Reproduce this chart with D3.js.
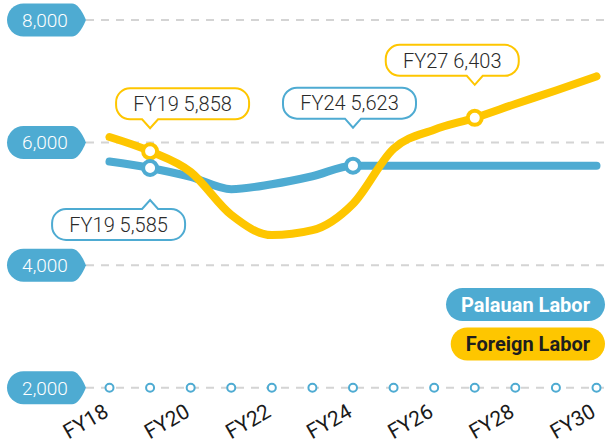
<!DOCTYPE html>
<html>
<head>
<meta charset="utf-8">
<script src="https://cdn.jsdelivr.net/npm/d3@7"></script>
<style>
  html, body { margin: 0; padding: 0; background: #fff; }
  svg { display: block; font-family: Roboto, "Open Sans", sans-serif; }
</style>
</head>
<body>
<svg id="chart"></svg>
<script>
// Palauan vs foreign labor, FY18–FY30

const years    = [2018, 2019, 2020, 2021, 2022, 2023, 2024, 2025, 2026, 2027, 2028, 2029, 2030];
const palauan  = [5690, 5585, 5440, 5240, 5320, 5450, 5623, 5623, 5623, 5623, 5623, 5623, 5623];
const foreign  = [6090, 5858, 5520, 4820, 4490, 4570, 5000, 5900, 6210, 6403, 6630, 6850, 7080];
const yTicks   = [2000, 4000, 6000, 8000];
const xTicks   = [2018, 2020, 2022, 2024, 2026, 2028, 2030];
const seriesNames = ["Palauan Labor", "Foreign Labor"];

// callouts: series, year, which side the box sits on
const callouts = [
  { series: 1, year: 2019, side: "above" },
  { series: 0, year: 2019, side: "below" },
  { series: 0, year: 2024, side: "above" },
  { series: 1, year: 2027, side: "above" }
];

(function () {
  const W = 610, H = 444;
  const BLUE = "#4eabd2";
  const YELLOW = "#fec600";
  const INK = "#2a2a2a";
  const GRID = "#d4d4d4";

  const svg = d3.select("#chart").attr("width", W).attr("height", H);

  const x = d3.scaleLinear().domain([2018, 2030]).range([109.5, 596.5]);
  const y = d3.scaleLinear().domain([2000, 8000]).range([387.7, 20]);

  const series = [
    { name: seriesNames[0], values: palauan, color: BLUE },
    { name: seriesNames[1], values: foreign, color: YELLOW }
  ];

  // gridlines
  svg.append("g").selectAll("line")
    .data(yTicks)
    .join("line")
    .attr("x1", 86).attr("x2", W)
    .attr("y1", d => y(d)).attr("y2", d => y(d))
    .attr("stroke", GRID)
    .attr("stroke-width", 2)
    .attr("stroke-dasharray", "8,7");

  // y-axis pills
  const pill = svg.append("g").selectAll("g")
    .data(yTicks)
    .join("g")
    .attr("transform", d => `translate(0,${y(d)})`);

  pill.append("path")
    .attr("fill", BLUE)
    .attr("d", () => {
      const x0 = 7, x1 = 72, tip = 86, h = 16.5, r = 16.5;
      return `M${x0 + r},${-h} H${x1} Q${x1 + 7},${-h} ${tip},0 Q${x1 + 7},${h} ${x1},${h} H${x0 + r} A${r},${r} 0 0 1 ${x0 + r},${-h} Z`;
    });

  pill.append("text")
    .attr("x", 45)
    .attr("dy", "0.36em")
    .attr("text-anchor", "middle")
    .attr("fill", "#fff")
    .attr("font-size", 19)
    .attr("font-weight", 300)
    .text(d => d3.format(",")(d));

  // year markers on the baseline
  svg.append("g").selectAll("circle")
    .data(years)
    .join("circle")
    .attr("cx", d => x(d))
    .attr("cy", y(yTicks[0]))
    .attr("r", 4)
    .attr("fill", "#fff")
    .attr("stroke", BLUE)
    .attr("stroke-width", 2);

  // x axis labels
  const xAxis = svg.append("g")
    .attr("transform", `translate(0,${y(yTicks[0])})`)
    .call(d3.axisBottom(x).tickValues(xTicks).tickSize(0).tickFormat(d => "FY" + String(d).slice(2)));
  xAxis.select(".domain").remove();
  xAxis.selectAll("text")
    .attr("font-family", "Roboto, sans-serif")
    .attr("font-size", 21)
    .attr("fill", "#1a1a1a")
    .attr("text-anchor", "end")
    .attr("x", 0).attr("y", 0).attr("dy", 0)
    .attr("transform", "translate(0,28) rotate(-30)");

  // lines
  const line = d3.line()
    .x((d, i) => x(years[i]))
    .y(d => y(d))
    .curve(d3.curveMonotoneX);

  series.forEach(s => {
    svg.append("path")
      .datum(s.values)
      .attr("fill", "none")
      .attr("stroke", s.color)
      .attr("stroke-width", 8)
      .attr("stroke-linecap", "round")
      .attr("stroke-linejoin", "round")
      .attr("d", line);
  });

  // callout markers and boxes
  function calloutPath(bx, by, w, h, r, px, side) {
    const pw = 8, ph = 9;
    if (side === "above") {
      return `M${bx + r},${by} H${bx + w - r} A${r},${r} 0 0 1 ${bx + w},${by + r} V${by + h - r} A${r},${r} 0 0 1 ${bx + w - r},${by + h}` +
        ` H${px + pw} L${px},${by + h + ph} L${px - pw},${by + h} H${bx + r} A${r},${r} 0 0 1 ${bx},${by + h - r} V${by + r} A${r},${r} 0 0 1 ${bx + r},${by} Z`;
    }
    return `M${bx + r},${by} H${px - pw} L${px},${by - ph} L${px + pw},${by} H${bx + w - r} A${r},${r} 0 0 1 ${bx + w},${by + r} V${by + h - r} A${r},${r} 0 0 1 ${bx + w - r},${by + h}` +
      ` H${bx + r} A${r},${r} 0 0 1 ${bx},${by + h - r} V${by + r} A${r},${r} 0 0 1 ${bx + r},${by} Z`;
  }

  // box offsets relative to the marker (layout only)
  const boxLayout = [
    { dx: -34, gap: 23 },
    { dx: -98, gap: 32 },
    { dx: -70, gap: 38 },
    { dx: -89, gap: 33 }
  ];

  callouts.forEach((c, k) => {
    const s = series[c.series];
    const i = years.indexOf(c.year);
    const v = s.values[i];
    const cx = x(c.year), cy = y(v);
    const lay = boxLayout[k];
    const w = 133, h = 31;
    const tipY = c.side === "above" ? cy - lay.gap : cy + lay.gap;
    const by = c.side === "above" ? tipY - 9 - h : tipY + 9;
    const bx = cx + lay.dx;

    svg.append("circle")
      .attr("cx", cx).attr("cy", cy)
      .attr("r", 7)
      .attr("fill", "#fff")
      .attr("stroke", s.color)
      .attr("stroke-width", 4);

    svg.append("path")
      .attr("d", calloutPath(bx, by, w, h, 14, cx, c.side))
      .attr("fill", "#fff")
      .attr("stroke", s.color)
      .attr("stroke-width", 2);

    svg.append("text")
      .attr("x", bx + w / 2)
      .attr("y", by + h / 2)
      .attr("dy", "0.36em")
      .attr("text-anchor", "middle")
      .attr("font-size", 20)
      .attr("font-weight", 300)
      .attr("fill", INK)
      .text("FY" + String(c.year).slice(2) + " " + d3.format(",")(v));
  });

  // legend
  const legend = svg.append("g");
  series.forEach((s, i) => {
    const g = legend.append("g").attr("transform", `translate(605,${304.5 + i * 39.5})`);
    const t = g.append("text")
      .attr("x", -15)
      .attr("dy", "0.36em")
      .attr("text-anchor", "end")
      .attr("font-size", 20)
      .attr("font-weight", 700)
      .attr("fill", i === 0 ? "#fff" : "#1e1e1e")
      .text(s.name);
    const tw = t.node().getComputedTextLength();
    g.insert("rect", "text")
      .attr("x", -tw - 30).attr("y", -16.5)
      .attr("width", tw + 30).attr("height", 33)
      .attr("rx", 16.5)
      .attr("fill", s.color);
  });
})();
</script>
</body>
</html>
